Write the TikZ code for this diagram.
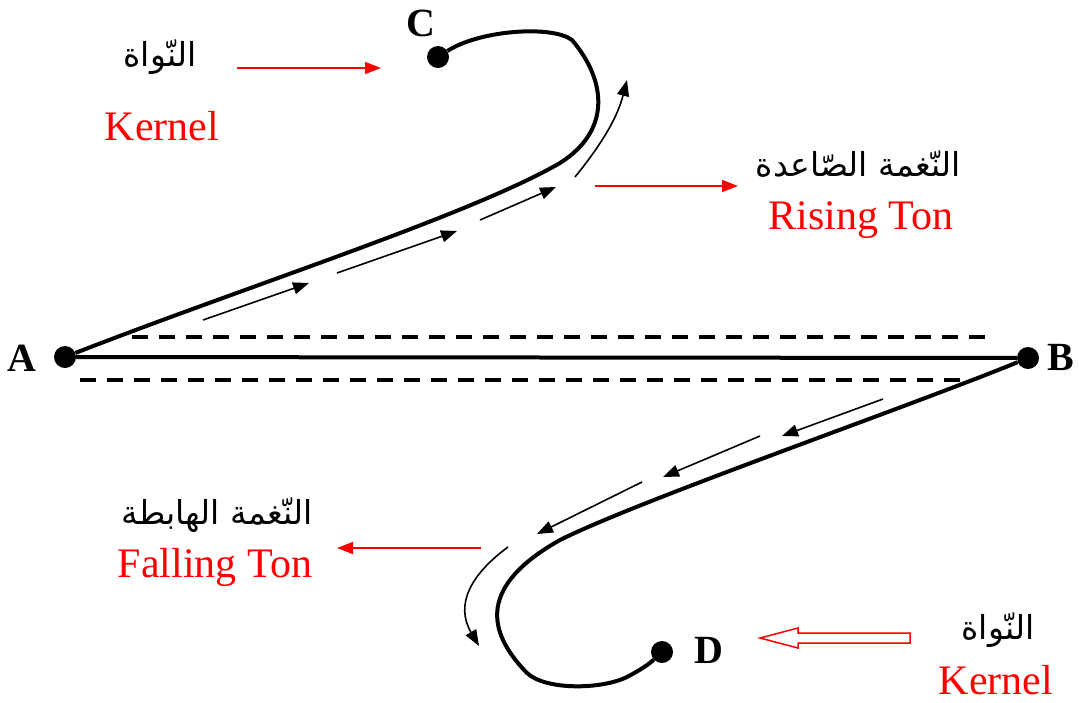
\documentclass[tikz,border=0pt]{standalone}
\usepackage{fontspec}
\setmainfont{Liberation Serif}
\newfontfamily\arabicfont[Script=Arabic]{DejaVu Sans}
\TeXXeTstate=1
\usetikzlibrary{arrows.meta}

\begin{document}
\begin{tikzpicture}[x=1pt, y=-1pt,
  dot/.style={circle, fill=black, inner sep=0pt, minimum size=22pt},
  pointlbl/.style={inner sep=0pt, font=\fontsize{40}{44}\selectfont\bfseries},
  redlbl/.style={inner sep=0pt, text=red, font=\fontsize{42}{46}\selectfont},
  arlbl/.style={inner sep=0pt, font=\fontsize{33}{38}\selectfont\arabicfont},
  tone/.style={line width=4pt},
  guide/.style={line width=4.5pt, dash pattern=on 16pt off 11pt},
  flow/.style={line width=1.6pt, -{Triangle[length=16pt,width=12pt]}},
  redarrow/.style={red, line width=1.6pt, -{Triangle[length=16pt,width=12pt]}}]

  \useasboundingbox (0,0) rectangle (1079,702);

  % Puntos
  \node[dot] (A) at (65,357) {};
  \node[dot] (B) at (1028,358) {};
  \node[dot] (C) at (438,57) {};
  \node[dot] (D) at (662,652) {};
  \node[pointlbl] (lA) at (22,358) {A};
  \node[pointlbl] (lB) at (1061,357) {B};
  \node[pointlbl] (lC) at (421,23) {C};
  \node[pointlbl] (lD) at (709,650) {D};

  % Linea central y lineas discontinuas
  \draw[tone] (A) -- (B);
  \coordinate (t1) at (132,337);
  \coordinate (t2) at (990,337);
  \coordinate (b1) at (80,380);
  \coordinate (b2) at (965,380);
  \draw[guide] (t1) -- (t2);
  \draw[guide] (b1) -- (b2);

  % Tono ascendente
  \draw[tone] (A) .. controls (250,285) and (470,215) .. (560,163)
    .. controls (612,130) and (606,80) .. (572,40)
    .. controls (552,25) and (480,30) .. (C);
  \coordinate (r1s) at (203,320); \coordinate (r1e) at (309,283);
  \coordinate (r2s) at (337,273); \coordinate (r2e) at (457,231);
  \coordinate (r3s) at (480,220); \coordinate (r3e) at (556,187);
  \coordinate (r4s) at (575,177); \coordinate (r4e) at (627,80);
  \draw[flow] (r1s) -- (r1e);
  \draw[flow] (r2s) -- (r2e);
  \draw[flow] (r3s) -- (r3e);
  \draw[flow] (r4s) .. controls (605,140) and (618,115) .. (r4e);

  % Tono descendente
  \draw[tone] (B) .. controls (900,410) and (640,500) .. (560,540)
    .. controls (480,585) and (485,630) .. (527,673)
    .. controls (545,690) and (600,690) .. (627,677)
    .. controls (640,670) and (648,665) .. (D);
  \coordinate (f1s) at (883,399); \coordinate (f1e) at (782,436);
  \coordinate (f2s) at (760,436); \coordinate (f2e) at (663,477);
  \coordinate (f3s) at (642,482); \coordinate (f3e) at (537,534);
  \coordinate (f4s) at (508,547); \coordinate (f4e) at (479,646);
  \draw[flow] (f1s) -- (f1e);
  \draw[flow] (f2s) -- (f2e);
  \draw[flow] (f3s) -- (f3e);
  \draw[flow] (f4s) .. controls (470,575) and (455,605) .. (f4e);

  % Etiquetas
  \node[arlbl] (arC) at (160,57) {\beginR النّواة\endR};
  \node[redlbl] (kerC) at (162,126) {Kernel};
  \node[arlbl] (arR) at (858,164) {\beginR النّغمة الصّاعدة\endR};
  \node[redlbl] (rise) at (861,220) {Rising Ton};
  \node[arlbl] (arF) at (217,515) {\beginR النّغمة الهابطة\endR};
  \node[redlbl] (fall) at (215,567) {Falling Ton};
  \node[arlbl] (arD) at (998,630) {\beginR النّواة\endR};
  \node[redlbl] (kerD) at (996,680) {Kernel};

  % Flechas rojas
  \coordinate (k1s) at (237,68); \coordinate (k1e) at (381,68);
  \coordinate (k2s) at (595,186); \coordinate (k2e) at (738,186);
  \coordinate (k3s) at (481,548); \coordinate (k3e) at (337,548);
  \draw[redarrow] (k1s) -- (k1e);
  \draw[redarrow] (k2s) -- (k2e);
  \draw[redarrow] (k3s) -- (k3e);
  \draw[red, line width=1.5pt] (910,633) -- (798,633) -- (798,628) -- (760,638)
    -- (798,648) -- (798,643) -- (910,643) -- cycle;
\end{tikzpicture}
\end{document}
